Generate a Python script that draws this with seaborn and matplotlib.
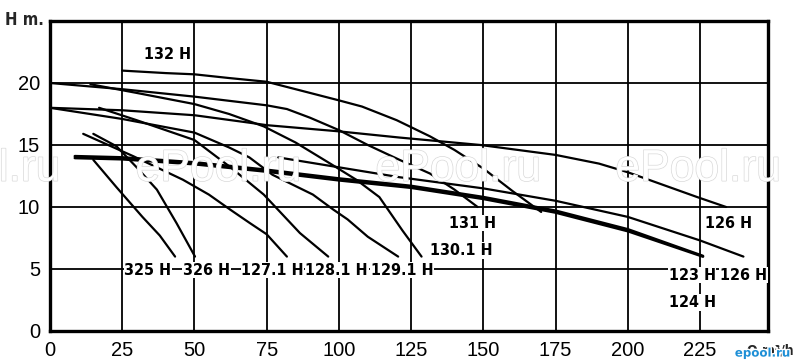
import numpy as np
import pandas as pd
import seaborn as sns
import matplotlib.pyplot as plt
from matplotlib import patheffects as pe

# ---- data: pump curves (Q m3/h, H m) ----
q_132 = [25, 40, 50, 62, 75, 85, 100, 108, 120, 131.5, 140, 150, 160, 170]
h_132 = [21.0, 20.8, 20.7, 20.4, 20.1, 19.5, 18.6, 18.1, 17.0, 15.7, 14.6, 13.1, 11.3, 9.6]

q_131 = [0, 25, 50, 75, 82, 90, 100, 110, 121, 131.5, 140, 148]
h_131 = [20.0, 19.5, 18.9, 18.2, 17.9, 17.2, 16.2, 15.0, 13.8, 12.7, 11.4, 10.0]

q_1301 = [14, 30, 50, 62, 74, 85, 97, 106, 114, 122, 128.6]
h_1301 = [19.9, 19.2, 18.3, 17.5, 16.5, 15.2, 13.5, 12.2, 10.8, 8.1, 6.0]

q_126u = [0, 25, 50, 69, 75, 100, 121, 149, 175, 190, 200, 224, 234]
h_126u = [18.0, 17.8, 17.4, 16.8, 16.6, 16.1, 15.6, 15.0, 14.2, 13.5, 12.8, 10.8, 10.0]

q_1291 = [0, 25, 50, 62, 69, 77, 91, 98, 103, 110, 120.5]
h_1291 = [18.0, 17.1, 16.0, 14.8, 14.0, 12.6, 11.0, 9.8, 9.0, 7.6, 6.0]

q_1281 = [17, 30, 50, 62.5, 74, 86.5, 96.3]
h_1281 = [18.0, 17.0, 15.4, 13.2, 11.0, 7.9, 6.0]

q_1271 = [11.5, 28.8, 46, 55, 62.3, 69.2, 75, 82]
h_1271 = [15.9, 14.1, 12.2, 11.0, 9.8, 8.7, 7.8, 6.0]

q_326 = [15, 23, 30, 37, 43.8, 50.2]
h_326 = [15.9, 14.9, 13.2, 11.4, 8.7, 6.0]

q_325 = [15, 23, 32, 38, 43.3]
h_325 = [13.8, 11.6, 9.2, 7.7, 6.0]

q_123 = [8.6, 25, 50, 75, 100, 125, 150, 175, 200, 226]
h_123 = [13.95, 13.85, 13.45, 12.85, 12.15, 11.55, 10.65, 9.55, 8.05, 6.0]

q_124 = [8.6, 25, 50, 75, 100, 125, 150, 175, 200, 226]
h_124 = [14.1, 14.0, 13.6, 13.0, 12.3, 11.7, 10.8, 9.7, 8.2, 6.05]

q_126l = [79, 100, 121, 150, 175, 200, 225, 240]
h_126l = [14.0, 13.2, 12.4, 11.5, 10.5, 9.2, 7.3, 6.0]

curves = {
    "132 H": (q_132, h_132), "131 H": (q_131, h_131), "130.1 H": (q_1301, h_1301),
    "126 H a": (q_126u, h_126u), "129.1 H": (q_1291, h_1291), "128.1 H": (q_1281, h_1281),
    "127.1 H": (q_1271, h_1271), "326 H": (q_326, h_326), "325 H": (q_325, h_325),
    "123 H": (q_123, h_123), "124 H": (q_124, h_124), "126 H b": (q_126l, h_126l),
}

x_ticks = [0, 25, 50, 75, 100, 125, 150, 175, 200, 225]
y_ticks = [0, 5, 10, 15, 20]

rows = []
for name, (qs, hs) in curves.items():
    for q, h in zip(qs, hs):
        rows.append({"pump": name, "Q": q, "H": h})
df = pd.DataFrame(rows)

sns.set_style("white")
plt.rcParams["font.family"] = ["Liberation Sans", "DejaVu Sans"]

fig = plt.figure(figsize=(7.97, 3.64), dpi=100)
ax = fig.add_axes([0.0627, 0.0907, 0.9009, 0.8516])

# watermarks (behind everything)
for xp in [-0.028, 0.274, 0.575, 0.876]:
    fig.text(xp, 0.535, "ePool.ru", ha="center", va="center", fontsize=32,
             family=["Liberation Sans", "DejaVu Sans"], color="white", zorder=0.5,
             path_effects=[pe.withStroke(linewidth=1.0, foreground="#d9d9d9")])
ax.set_facecolor("none")

# grid
for xv in x_ticks[1:]:
    ax.axvline(xv, color="black", lw=1.3, zorder=1)
for yv in y_ticks[1:]:
    ax.axhline(yv, color="black", lw=1.3, zorder=1)

thin = [n for n in curves if n not in ("123 H", "124 H")]
sns.lineplot(data=df[df.pump.isin(thin)], x="Q", y="H", units="pump", estimator=None,
             sort=False, color="black", lw=1.6, ax=ax, zorder=3)
sns.lineplot(data=df[df.pump.isin(["123 H", "124 H"])], x="Q", y="H", units="pump",
             estimator=None, sort=False, color="black", lw=1.9, ax=ax, zorder=3)

ax.set_xlim(0, 248.5)
ax.set_ylim(0, 25)
ax.set_xticks(x_ticks)
ax.set_yticks(y_ticks)
ax.set_xlabel("")
ax.set_ylabel("")
ax.tick_params(axis="both", direction="out", length=5, width=1.3, labelsize=14.5,
               color="black", labelcolor="black", pad=2)
for s in ax.spines.values():
    s.set_linewidth(2.4)
    s.set_color("black")

lab_fam = ["DejaVu Sans"]
lab_font = dict(family=lab_fam, fontsize=11.5, fontweight="bold", fontstretch="condensed",
                color="black", zorder=5)
box = dict(facecolor="white", edgecolor="none", pad=0.5)

ax.text(40.7, 22.3, "132 H", ha="center", va="center", **lab_font)
ax.text(146.4, 8.7, "131 H", ha="center", va="center", bbox=box, **lab_font)
ax.text(142.5, 6.5, "130.1 H", ha="center", va="center", bbox=box, **lab_font)
ax.text(235, 8.7, "126 H", ha="center", va="center", bbox=box, **lab_font)
ax.text(222.3, 4.5, "123 H", ha="center", va="center", bbox=box, **lab_font)
ax.text(240.0, 4.5, "126 H", ha="center", va="center", bbox=box, **lab_font)
ax.text(222.3, 2.3, "124 H", ha="center", va="center", bbox=box, **lab_font)
for xl, t in [(33.9, "325 H"), (54.2, "326 H"), (77.0, "127.1 H"), (99.2, "128.1 H"), (121.8, "129.1 H")]:
    ax.text(xl, 4.9, t, ha="center", va="center", bbox=box, **lab_font)

fig.text(0.006, 0.945, "H m.", ha="left", va="center", family=lab_fam,
         fontsize=12, fontweight="bold", fontstretch="condensed")
fig.text(0.937, 0.035, "Q m³/h", ha="left", va="center", family=lab_fam,
         fontsize=10, fontweight="bold", fontstretch="condensed")
fig.text(0.922, 0.03, "epool.ru", ha="left", va="center", fontsize=8.5, fontweight="bold",
         color="#1e8fd6", family=["DejaVu Sans"], zorder=6,
         path_effects=[pe.withStroke(linewidth=2, foreground="white")])

fig.savefig("out.png", dpi=100)
